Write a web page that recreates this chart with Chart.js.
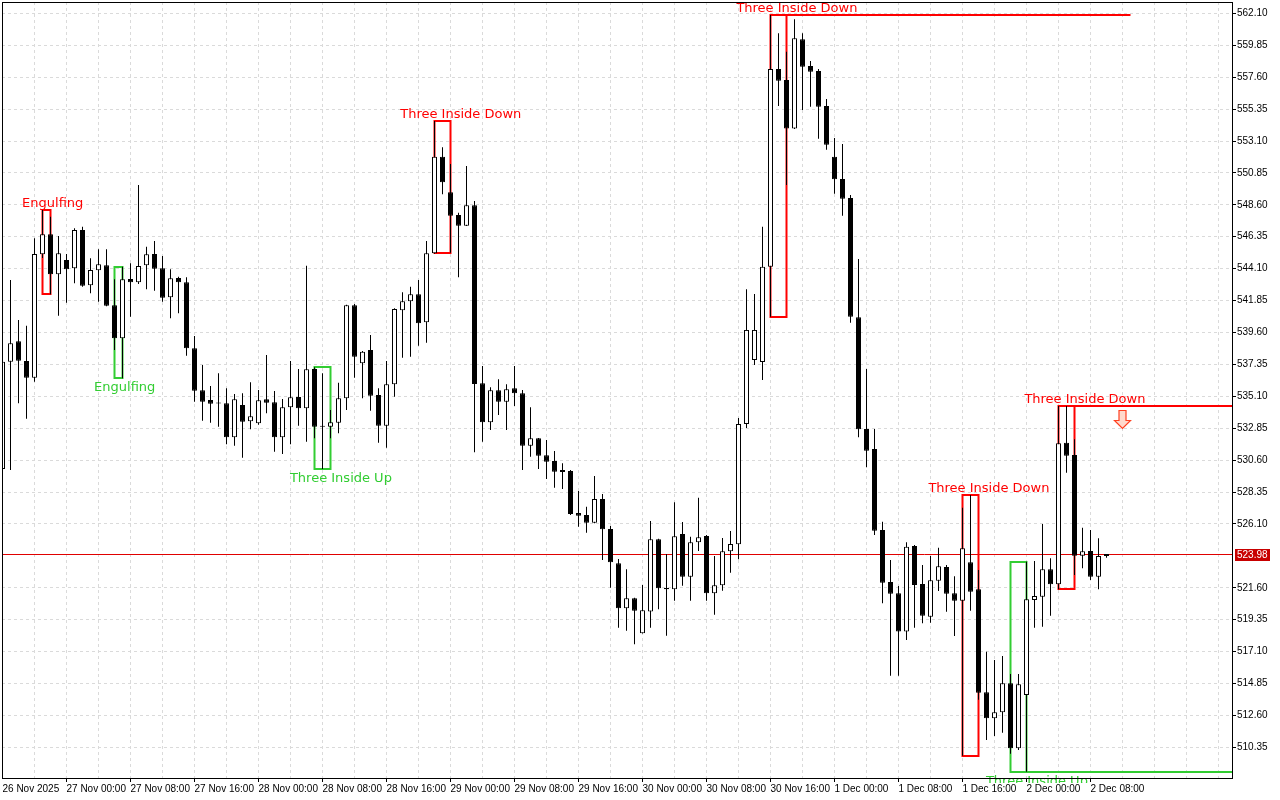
<!DOCTYPE html>
<html>
<head>
<meta charset="utf-8">
<title>H1 candles</title>
<script src="https://cdn.jsdelivr.net/npm/chart.js@4.4.1/dist/chart.umd.min.js"></script>
<style>
  html, body { margin: 0; padding: 0; background: #fff; }
  canvas { display: block; }
</style>
</head>
<body>
<canvas id="chart" width="1280" height="800"></canvas>
<script>
// Hourly bars, index 0 = 26 Nov 16:00
const opens = [
  529.98, 537.54, 538.98, 537.59, 536.41, 545.11, 546.52, 543.70, 544.71, 544.12,
  546.82, 542.93, 543.98, 544.34, 541.52, 539.19, 543.37, 543.14, 544.34, 545.13,
  544.12, 542.08, 543.44, 543.14, 538.48, 535.52, 534.84, 534.61, 534.61, 532.21,
  534.49, 533.34, 533.20, 534.89, 534.68, 532.21, 534.33, 535.05, 534.25, 537.02,
  532.96, 532.96, 533.24, 534.96, 541.52, 537.43, 538.36, 535.19, 533.03, 535.95,
  541.16, 541.80, 542.29, 540.32, 545.18, 551.99, 549.48, 547.88, 547.13, 548.57,
  536.02, 533.27, 535.52, 534.72, 535.66, 535.31, 531.62, 532.14, 530.94, 530.54,
  529.77, 529.83, 526.87, 526.73, 526.19, 527.86, 525.74, 523.33, 520.15, 520.86,
  518.39, 519.92, 525.02, 521.58, 521.49, 525.39, 522.38, 524.81, 525.25, 521.21,
  521.78, 524.17, 524.67, 533.15, 537.66, 537.52, 544.24, 558.18, 557.40, 553.99,
  560.27, 558.39, 558.03, 555.57, 551.99, 550.42, 549.08, 540.67, 532.79, 531.38,
  525.68, 522.01, 521.21, 518.51, 524.55, 521.87, 519.56, 522.10, 523.07, 521.21,
  520.69, 523.40, 521.49, 514.23, 512.40, 512.82, 514.87, 510.28, 514.04, 520.74,
  520.97, 522.90, 521.85, 531.83, 530.96, 523.86, 524.19, 522.38, 523.84
];
const highs = [
  537.60, 543.30, 540.48, 540.08, 546.24, 548.23, 547.76, 546.40, 545.13, 546.94,
  547.06, 544.83, 545.46, 545.46, 543.35, 544.24, 544.48, 550.00, 545.65, 546.05,
  544.99, 544.05, 543.53, 543.49, 539.35, 537.31, 535.83, 536.72, 535.66, 535.26,
  535.31, 536.09, 535.54, 538.01, 535.47, 534.91, 537.59, 537.03, 544.31, 537.15,
  536.72, 534.13, 536.06, 541.55, 541.61, 538.30, 539.42, 535.66, 537.59, 541.31,
  542.43, 542.83, 543.30, 546.05, 554.51, 552.66, 551.48, 548.04, 551.34, 548.87,
  537.24, 535.74, 536.30, 535.95, 537.24, 535.54, 534.33, 532.16, 532.02, 531.24,
  530.38, 529.90, 528.42, 527.32, 529.48, 528.21, 525.96, 523.63, 522.90, 520.90,
  521.80, 526.31, 525.05, 523.98, 527.63, 526.24, 525.20, 527.95, 525.32, 523.84,
  525.11, 525.60, 533.57, 542.64, 542.31, 547.06, 561.98, 560.69, 559.40, 561.68,
  560.69, 558.74, 558.17, 556.06, 553.31, 552.89, 549.29, 544.78, 537.03, 532.79,
  526.26, 523.56, 521.73, 524.81, 524.62, 523.21, 523.84, 524.43, 523.21, 522.41,
  527.25, 528.14, 522.85, 517.09, 516.51, 516.79, 515.52, 515.52, 523.44, 523.49,
  526.10, 523.68, 534.42, 534.42, 532.07, 525.84, 525.68, 525.09, 523.98
];
const lows = [
  523.91, 529.90, 534.61, 533.52, 536.13, 544.85, 542.29, 540.78, 541.70, 543.07,
  542.83, 542.36, 541.77, 541.45, 538.36, 536.37, 540.71, 543.02, 542.64, 542.55,
  541.77, 540.60, 540.95, 537.96, 534.72, 533.38, 533.24, 532.96, 531.72, 531.62,
  530.77, 532.77, 533.10, 533.90, 531.19, 531.03, 531.72, 533.03, 531.90, 532.14,
  529.98, 532.14, 532.49, 534.13, 536.41, 534.96, 534.08, 531.83, 531.48, 535.07,
  537.82, 537.89, 538.67, 538.88, 545.15, 549.34, 545.22, 543.49, 547.10, 531.15,
  531.90, 532.72, 533.78, 532.72, 534.42, 529.90, 530.84, 529.98, 529.27, 528.66,
  528.57, 526.73, 525.91, 525.48, 526.15, 523.56, 521.61, 518.79, 518.58, 517.62,
  518.37, 518.79, 520.08, 518.22, 520.69, 521.75, 520.69, 524.19, 520.69, 519.70,
  521.40, 522.66, 523.61, 532.87, 537.31, 536.25, 540.71, 555.57, 550.00, 553.95,
  555.29, 555.52, 553.26, 552.49, 549.38, 547.83, 540.29, 532.21, 530.10, 525.32,
  520.51, 515.40, 515.40, 517.92, 518.79, 519.10, 519.14, 521.37, 519.91, 518.20,
  509.76, 519.99, 513.70, 510.87, 511.15, 511.38, 509.90, 510.16, 508.63, 518.79,
  518.86, 519.63, 521.49, 529.71, 522.50, 522.97, 522.15, 521.49, 523.72
];
const closes = [
  537.54, 538.84, 537.61, 536.41, 545.13, 546.52, 543.70, 545.18, 544.05, 546.82,
  542.90, 544.00, 544.41, 541.49, 539.19, 543.35, 543.14, 544.29, 545.11, 544.10,
  542.05, 543.42, 543.14, 538.48, 535.50, 534.72, 534.58, 534.59, 532.21, 534.89,
  533.31, 533.69, 534.82, 534.65, 532.21, 534.33, 535.03, 534.25, 537.00, 532.96,
  532.98, 533.27, 534.96, 541.52, 537.89, 538.25, 535.14, 533.03, 535.95, 541.26,
  541.80, 542.29, 540.25, 545.18, 551.99, 550.19, 547.83, 547.13, 548.57, 535.97,
  533.27, 535.52, 534.72, 535.59, 535.31, 531.62, 532.14, 530.91, 530.49, 529.79,
  529.90, 526.80, 526.68, 526.19, 527.86, 525.72, 523.40, 520.15, 520.86, 519.99,
  520.01, 525.02, 521.56, 521.49, 525.23, 522.38, 524.81, 525.16, 521.21, 521.78,
  524.17, 524.69, 533.15, 539.78, 539.78, 544.24, 558.18, 557.35, 553.99, 560.34,
  558.34, 557.99, 555.52, 552.84, 550.40, 549.03, 540.71, 532.77, 531.27, 525.63,
  521.96, 521.18, 518.51, 524.50, 521.80, 519.63, 522.13, 523.12, 521.18, 520.69,
  524.38, 521.32, 514.20, 512.40, 512.82, 514.87, 510.28, 514.80, 520.79, 521.02,
  522.90, 521.85, 531.79, 530.91, 523.86, 524.17, 522.38, 523.84, 523.98
];
const lastPrice = 523.98;

// price axis labels (523.85 is hidden behind the price tag)
const yTicks = [562.10, 559.85, 557.60, 555.35, 553.10, 550.85, 548.60, 546.35, 544.10, 541.85,
  539.60, 537.35, 535.10, 532.85, 530.60, 528.35, 526.10, 521.60, 519.35, 517.10,
  514.85, 512.60, 510.35];
const yMin = 508.19;
const yMax = 562.90;

// time axis: label text and the bar index it sits on
const xLabels = ['26 Nov 2025', '27 Nov 00:00', '27 Nov 08:00', '27 Nov 16:00', '28 Nov 00:00',
  '28 Nov 08:00', '28 Nov 16:00', '29 Nov 00:00', '29 Nov 08:00', '29 Nov 16:00', '30 Nov 00:00',
  '30 Nov 08:00', '30 Nov 16:00', '1 Dec 00:00', '1 Dec 08:00', '1 Dec 16:00', '2 Dec 00:00', '2 Dec 08:00'];
const xLabelAt = [0, 8, 16, 24, 32, 40, 48, 56, 64, 72, 80, 88, 96, 104, 112, 120, 128, 136];
const xMin = -0.0625;
const xMax = 153.6875;

// candle patterns found by the indicator
const patName = ['Engulfing', 'Engulfing', 'Three Inside Up', 'Three Inside Down', 'Three Inside Down',
  'Three Inside Down', 'Three Inside Up', 'Three Inside Down'];
const patBull = [false, true, true, false, false, false, true, false];
const patStart = [5, 14, 39, 54, 96, 120, 126, 132];
const patEnd = [6, 15, 41, 56, 98, 122, 128, 134];
const patHigh = [548.23, 544.24, 537.15, 554.53, 561.98, 528.14, 523.44, 534.42];
const patLow = [542.29, 536.37, 529.98, 545.20, 540.71, 509.76, 508.63, 521.49];
const patLabelAt = [6.28, 15.28, 42.3, 57.28, 99.3, 123.3, 129.3, 135.3];
const patLineTo = [null, null, null, null, 141, null, 153.7, 153.7];

// sell signal arrow
const arrowAt = 140;
const arrowPrice = 534.13;

const RED = '#ff0000';
const GREEN = '#32cd32';

document.addEventListener('DOMContentLoaded', function() {
    Chart.defaults.font.family = '"Liberation Sans", Arial, sans-serif';
    Chart.defaults.font.size = 10;
    Chart.defaults.color = '#000';

    const wicks = [];
    const bodies = [];
    const bodyColors = [];
    for (let i = 0; i < opens.length; i++) {
        wicks.push({ x: i, y: [lows[i], highs[i]] });
        bodies.push({ x: i, y: [Math.min(opens[i], closes[i]), Math.max(opens[i], closes[i])] });
        bodyColors.push(closes[i] >= opens[i] ? '#ffffff' : '#000000');
    }

    const overlay = {
        id: 'overlay',
        beforeDatasetsDraw(chart) {
            const { ctx, chartArea: a, scales: { x, y } } = chart;
            ctx.save();
            ctx.beginPath();
            ctx.rect(a.left, a.top, a.right - a.left, a.bottom - a.top);
            ctx.clip();

            // current price line
            const py = Math.round(y.getPixelForValue(lastPrice)) + 0.5;
            ctx.strokeStyle = '#e00000';
            ctx.lineWidth = 1;
            ctx.beginPath();
            ctx.moveTo(a.left, py);
            ctx.lineTo(a.right, py);
            ctx.stroke();

            // pattern boxes and levels
            for (let k = 0; k < patName.length; k++) {
                const col = patBull[k] ? GREEN : RED;
                const x1 = x.getPixelForValue(patStart[k]);
                const x2 = x.getPixelForValue(patEnd[k]);
                const yt = Math.round(y.getPixelForValue(patHigh[k]));
                const yb = Math.round(y.getPixelForValue(patLow[k]));
                ctx.strokeStyle = col;
                ctx.lineWidth = 2;
                ctx.strokeRect(x1, yt, x2 - x1, yb - yt);
                if (patLineTo[k] !== null) {
                    const ly = patBull[k] ? yb : yt;
                    ctx.beginPath();
                    ctx.moveTo(x1, ly);
                    ctx.lineTo(x.getPixelForValue(patLineTo[k]), ly);
                    ctx.stroke();
                }
            }

            // hollow down arrow
            const ax = x.getPixelForValue(arrowAt);
            const ay = Math.round(y.getPixelForValue(arrowPrice)) + 0.5;
            ctx.beginPath();
            ctx.moveTo(ax - 3.5, ay);
            ctx.lineTo(ax + 3.5, ay);
            ctx.lineTo(ax + 3.5, ay + 10);
            ctx.lineTo(ax + 8, ay + 10);
            ctx.lineTo(ax, ay + 18);
            ctx.lineTo(ax - 8, ay + 10);
            ctx.lineTo(ax - 3.5, ay + 10);
            ctx.closePath();
            ctx.fillStyle = '#ffd9cc';
            ctx.fill();
            ctx.strokeStyle = '#ff4020';
            ctx.lineWidth = 1.2;
            ctx.stroke();
            ctx.restore();

            // pattern names (the lowest one runs a little past the frame)
            ctx.save();
            ctx.beginPath();
            ctx.rect(a.left, a.top, a.right - a.left, a.bottom - a.top + 5);
            ctx.clip();
            ctx.font = '13px "DejaVu Sans"';
            ctx.textAlign = 'center';
            ctx.textBaseline = 'middle';
            for (let k = 0; k < patName.length; k++) {
                const yt = Math.round(y.getPixelForValue(patHigh[k]));
                const yb = Math.round(y.getPixelForValue(patLow[k]));
                ctx.fillStyle = patBull[k] ? GREEN : RED;
                ctx.fillText(patName[k], x.getPixelForValue(patLabelAt[k]), patBull[k] ? yb + 10 : yt - 6);
            }
            ctx.restore();
        },
        afterDraw(chart) {
            const { ctx, chartArea: a, scales: { y } } = chart;
            ctx.save();
            // chart frame
            ctx.strokeStyle = '#000';
            ctx.lineWidth = 1;
            ctx.strokeRect(a.left + 0.5, a.top + 0.5, a.right - a.left, a.bottom - a.top);

            // price tag on the axis
            const py = Math.round(y.getPixelForValue(lastPrice));
            ctx.fillStyle = '#c80000';
            ctx.fillRect(a.right + 3, py - 5, 35, 12);
            ctx.fillStyle = '#fff';
            ctx.font = '10px "Liberation Sans"';
            ctx.textAlign = 'left';
            ctx.textBaseline = 'middle';
            ctx.fillText(lastPrice.toFixed(2), a.right + 5, py + 1);
            ctx.restore();
        }
    };

    new Chart(document.getElementById('chart'), {
        type: 'bar',
        data: {
            datasets: [
                {
                    label: 'body',
                    data: bodies,
                    order: 1,
                    grouped: false,
                    barThickness: 5,
                    minBarLength: 1,
                    backgroundColor: bodyColors,
                    borderColor: '#000',
                    borderWidth: 1,
                    borderSkipped: false,
                    inflateAmount: 0
                },
                {
                    label: 'wick',
                    data: wicks,
                    order: 2,
                    grouped: false,
                    barThickness: 1,
                    backgroundColor: '#000',
                    borderWidth: 0,
                    inflateAmount: 0
                }
            ]
        },
        options: {
            responsive: false,
            animation: false,
            layout: { padding: { left: 2, top: 2, right: 0, bottom: 0 } },
            plugins: {
                legend: { display: false },
                tooltip: { enabled: false }
            },
            scales: {
                x: {
                    type: 'linear',
                    min: xMin,
                    max: xMax,
                    offset: false,
                    border: { display: false, dash: [3, 3] },
                    grid: {
                        offset: false,
                        color: '#dadada',
                        tickLength: 4,
                        tickColor: function(c) {
                            return c.tick && xLabelAt.indexOf(c.tick.value) > 0 ? '#000' : 'rgba(0,0,0,0)';
                        }
                    },
                    ticks: {
                        autoSkip: false,
                        maxRotation: 0,
                        align: 'start',
                        padding: 1,
                        callback: function(value) {
                            const k = xLabelAt.indexOf(value);
                            return k >= 0 ? xLabels[k] : '';
                        }
                    },
                    afterBuildTicks: function(scale) {
                        const t = [];
                        for (let v = 0; v <= 152; v += 4) t.push({ value: v });
                        scale.ticks = t;
                    },
                    afterFit: function(scale) {
                        scale.height = 22;
                        scale.paddingLeft = 0;
                        scale.paddingRight = 0;
                    }
                },
                y: {
                    type: 'linear',
                    position: 'right',
                    min: yMin,
                    max: yMax,
                    beginAtZero: false,
                    border: { display: false, dash: [3, 3] },
                    grid: {
                        color: '#dadada',
                        tickLength: 4,
                        tickColor: '#000'
                    },
                    ticks: {
                        autoSkip: false,
                        padding: 1,
                        callback: function(value) {
                            return value.toFixed(2);
                        }
                    },
                    afterBuildTicks: function(scale) {
                        scale.ticks = yTicks.map(v => ({ value: v }));
                    },
                    afterFit: function(scale) {
                        scale.width = 48;
                        scale.paddingTop = 0;
                        scale.paddingBottom = 0;
                    }
                }
            }
        },
        plugins: [overlay]
    });
});
</script>
</body>
</html>
